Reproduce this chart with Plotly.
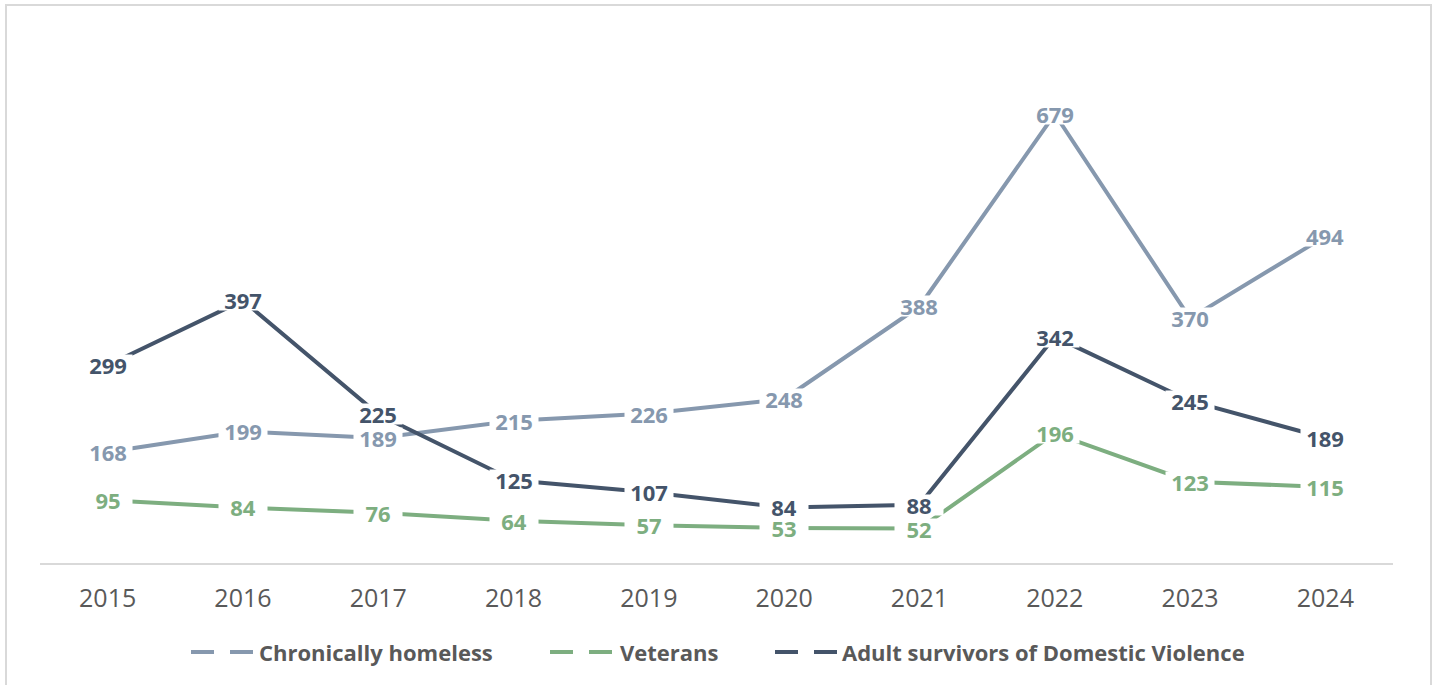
import plotly.graph_objects as go

years = ["2015", "2016", "2017", "2018", "2019", "2020", "2021", "2022", "2023", "2024"]
chronically_homeless = [168, 199, 189, 215, 226, 248, 388, 679, 370, 494]
veterans = [95, 84, 76, 64, 57, 53, 52, 196, 123, 115]
dv_survivors = [299, 397, 225, 125, 107, 84, 88, 342, 245, 189]

series = [
    ("Chronically homeless", chronically_homeless, "#8698ae"),
    ("Veterans", veterans, "#7dae80"),
    ("Adult survivors of Domestic Violence", dv_survivors, "#44546a"),
]

W, H = 1435, 685
ml, mr, mt, mb = 40, 42, 34, 122
pw, ph = W - ml - mr, H - mt - mb
xs = list(range(len(years)))

fig = go.Figure()
for name, vals, col in series:
    fig.add_trace(go.Scatter(x=xs, y=vals, mode="lines", line=dict(color=col, width=4),
                             name=name, showlegend=False, hoverinfo="skip"))

annotations = []
for name, vals, col in [series[2], series[0], series[1]]:
    for x, v in zip(xs, vals):
        annotations.append(dict(x=x, y=v, xref="x", yref="y", text=f"<b>{v}</b>", showarrow=False,
                                font=dict(family="Open Sans", size=22, color=col),
                                bgcolor="white", borderpad=0, height=20, width=48, valign="middle",
                                xanchor="center", yanchor="middle"))

# custom legend (pixel positions converted to paper coords)
def px(xp):
    return (xp - ml) / pw

def py(yp):
    return (H - mb - yp) / ph

shapes = []
legend_pos = [(191, 257), (550, 618), (775, 840)]
leg_y = 652
for (name, vals, col), (sx, tx) in zip(series, legend_pos):
    for d0 in (sx, sx + 39):
        shapes.append(dict(type="line", xref="paper", yref="paper", x0=px(d0), x1=px(d0 + 23),
                           y0=py(leg_y), y1=py(leg_y), line=dict(color=col, width=4)))
    annotations.append(dict(x=px(tx), y=py(leg_y), xref="paper", yref="paper", text=f"<b>{name}</b>",
                            showarrow=False, xanchor="left", yanchor="middle",
                            font=dict(family="Open Sans", size=22, color="#595959")))

shapes.append(dict(type="rect", xref="paper", yref="paper",
                   x0=px(6), x1=px(1431), y0=py(700), y1=py(5),
                   line=dict(color="#d9d9d9", width=2), fillcolor="rgba(0,0,0,0)", layer="below"))

fig.update_layout(
    width=W, height=H,
    margin=dict(l=ml, r=mr, t=mt, b=mb),
    paper_bgcolor="white", plot_bgcolor="white",
    annotations=annotations,
    shapes=shapes,
    showlegend=False,
    xaxis=dict(range=[-0.5, 9.5], tickvals=xs, ticktext=years, showgrid=False, zeroline=False,
               showline=True, linecolor="#d9d9d9", linewidth=1.5, ticks="",
               tickfont=dict(family="Open Sans", size=25, color="#595959"),
               ticklabelstandoff=12),
    yaxis=dict(range=[0, 800], visible=False, showgrid=False, zeroline=False),
)

fig.write_html("out.html", config={"displayModeBar": False},
               post_script="document.body.style.margin='0';document.body.style.overflow='hidden';")
